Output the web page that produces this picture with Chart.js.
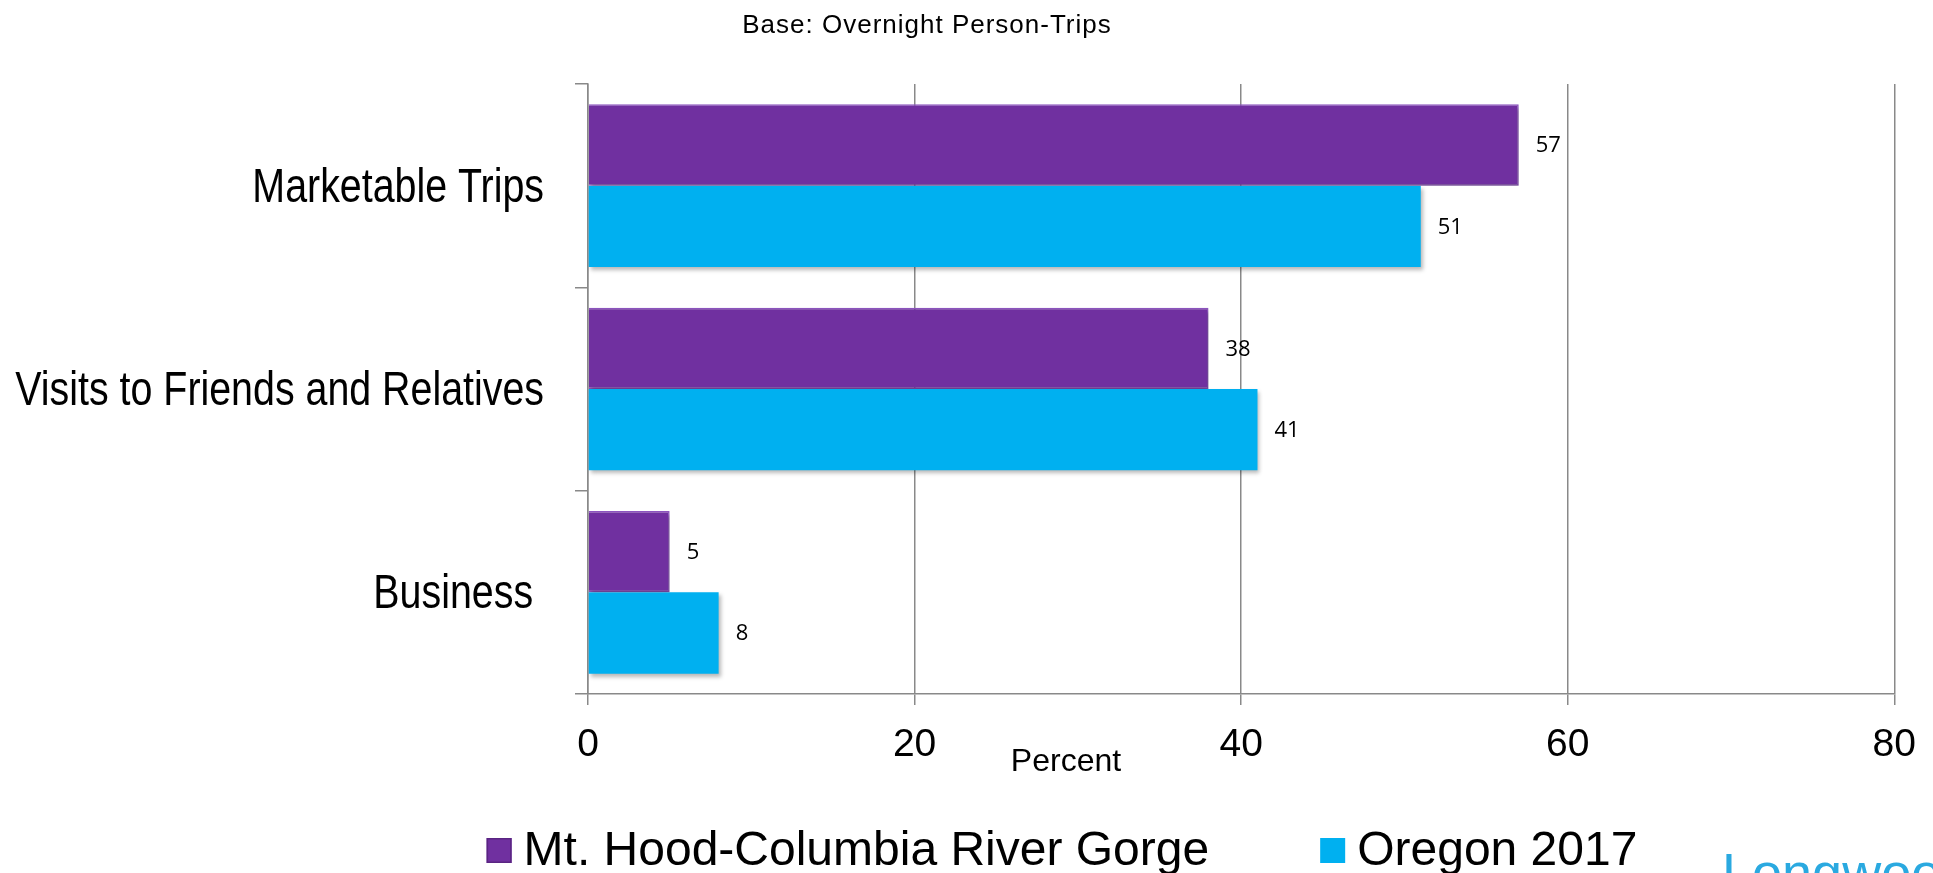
<!DOCTYPE html>
<html>
<head>
<meta charset="utf-8">
<script src="https://cdn.jsdelivr.net/npm/chart.js@4/dist/chart.umd.min.js"></script>
<style>
  html, body { margin: 0; padding: 0; background: #fff; overflow: hidden; }
</style>
</head>
<body>
<canvas id="tripChart" width="1933" height="873"></canvas>
<script>
// datos
const categories = ['Marketable Trips', 'Visits to Friends and Relatives', 'Business '];
const seriesNames = ['Mt. Hood-Columbia River Gorge', 'Oregon 2017'];
const mtHoodValues = [57, 38, 5];
const oregonValues = [51, 41, 8];
const xTicks = [0, 20, 40, 60, 80];
const seriesColors = ['#7030a0', '#00b0f0'];

const ARIAL = '"Liberation Sans", Arial, sans-serif';

// sombra suave de las barras
const barShadow = {
    id: 'barShadow',
    beforeDatasetsDraw(chart) {
        const ctx = chart.ctx;
        ctx.save();
        ctx.shadowColor = 'rgba(0,0,0,0.28)';
        ctx.shadowBlur = 4;
        ctx.shadowOffsetX = 2;
        ctx.shadowOffsetY = 3;
    },
    afterDatasetsDraw(chart) {
        chart.ctx.restore();
    }
};

// textos: etiquetas de valores, categorias, titulo, leyenda
const extras = {
    id: 'extras',
    afterDatasetsDraw(chart) {
        const ctx = chart.ctx;
        ctx.save();
        ctx.fillStyle = '#000';
        ctx.font = '22px "Open Sans", Lato, sans-serif';
        ctx.textAlign = 'left';
        ctx.textBaseline = 'middle';
        chart.data.datasets.forEach((ds, i) => {
            chart.getDatasetMeta(i).data.forEach((bar, j) => {
                ctx.fillText(ds.data[j], bar.x + 17, bar.y + 1);
            });
        });
        ctx.restore();
    },
    afterDraw(chart) {
        const ctx = chart.ctx;
        const yScale = chart.scales.y;
        ctx.save();
        ctx.fillStyle = '#000';

        // categorias en letra estrecha
        ctx.font = '48px ' + ARIAL;
        ctx.textAlign = 'right';
        ctx.textBaseline = 'alphabetic';
        categories.forEach((cat, i) => {
            const y = yScale.getPixelForTick(i);
            ctx.save();
            ctx.translate(544, y + 16);
            ctx.scale(0.82, 1);
            ctx.fillText(cat, 0, 0);
            ctx.restore();
        });

        // titulo y eje
        ctx.textAlign = 'center';
        ctx.textBaseline = 'middle';
        ctx.font = '26px ' + ARIAL;
        ctx.letterSpacing = '1px';
        ctx.fillText('Base: Overnight Person-Trips', 927, 26);
        ctx.letterSpacing = '0px';
        ctx.font = '32px ' + ARIAL;
        ctx.fillText('Percent', 1066, 762);

        // leyenda
        ctx.font = '48px ' + ARIAL;
        ctx.textAlign = 'left';
        ctx.textBaseline = 'alphabetic';
        const box = 25, gapText = 12, gapItem = 111;
        const widths = seriesNames.map(n => ctx.measureText(n).width);
        const total = widths.reduce((a, w) => a + box + gapText + w, 0) + gapItem;
        let x = 1062 - total / 2;
        seriesNames.forEach((name, i) => {
            ctx.fillStyle = seriesColors[i];
            ctx.fillRect(x, 838, box, box);
            if (i === 0) {
                ctx.strokeStyle = '#5a2482';
                ctx.lineWidth = 1.5;
                ctx.strokeRect(x + 0.75, 838.75, box - 1.5, box - 1.5);
            }
            ctx.fillStyle = '#000';
            ctx.fillText(name, x + box + gapText, 865);
            x += box + gapText + widths[i] + gapItem;
        });

        // logo
        ctx.fillStyle = '#2aa9e0';
        ctx.font = '54px ' + ARIAL;
        ctx.fillText('Longwoods', 1722, 891);
        ctx.restore();
    }
};

const ctx = document.getElementById('tripChart').getContext('2d');
const tripChart = new Chart(ctx, {
    type: 'bar',
    data: {
        labels: categories,
        datasets: [{
            label: seriesNames[0],
            data: mtHoodValues,
            backgroundColor: seriesColors[0],
            borderColor: '#8d55c0',
            borderWidth: 1.5,
            categoryPercentage: 0.8,
            barPercentage: 1.0
        }, {
            label: seriesNames[1],
            data: oregonValues,
            backgroundColor: seriesColors[1],
            borderWidth: 0,
            categoryPercentage: 0.8,
            barPercentage: 1.0
        }]
    },
    options: {
        indexAxis: 'y',
        responsive: false,
        animation: false,
        layout: { padding: { top: 84, left: 0, right: 36, bottom: 0 } },
        plugins: {
            tooltip: { enabled: false },
            legend: { display: false }
        },
        scales: {
            x: {
                min: 0,
                max: 80,
                afterBuildTicks(scale) {
                    scale.ticks = xTicks.map(v => ({ value: v }));
                },
                afterFit(scale) { scale.height = 179; },
                grid: { color: '#898989', lineWidth: 1.5, tickLength: 11 },
                border: { color: '#898989', width: 1.5 },
                ticks: { color: '#000', font: { family: ARIAL, size: 39 }, padding: 17 }
            },
            y: {
                afterFit(scale) { scale.width = 588; },
                grid: { display: true, drawOnChartArea: false, color: '#898989', lineWidth: 1.5, tickLength: 13, offset: true },
                border: { color: '#898989', width: 1.5 },
                ticks: { display: false }
            }
        }
    },
    plugins: [barShadow, extras]
});
</script>
</body>
</html>
